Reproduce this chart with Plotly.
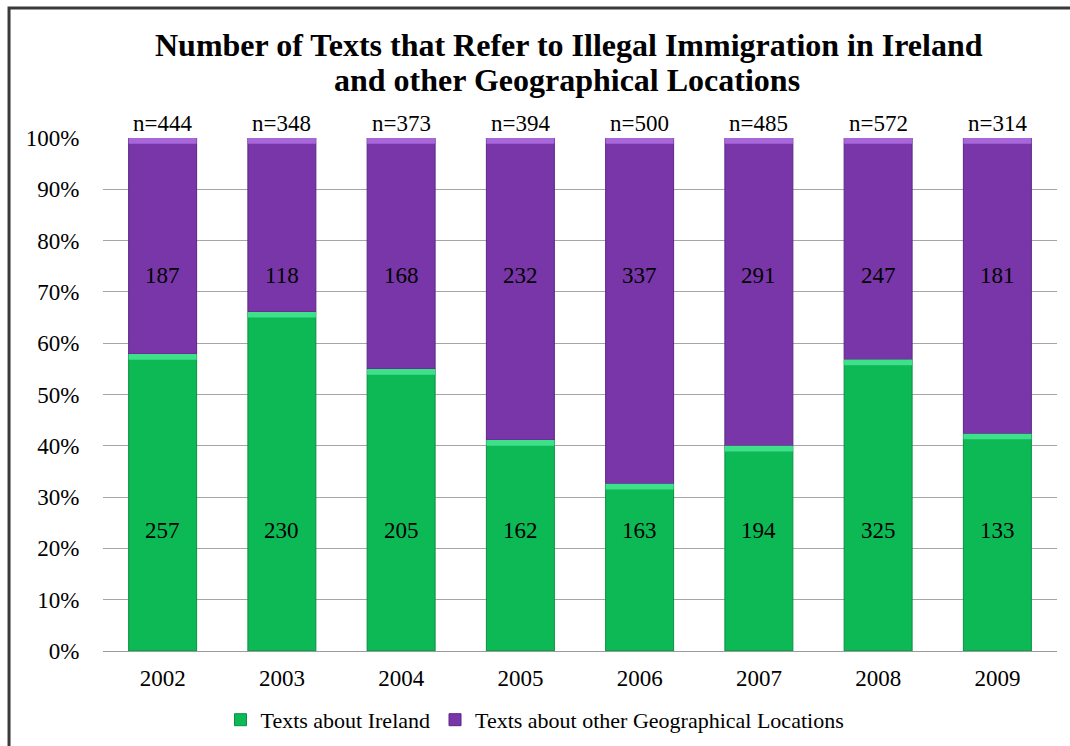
import plotly.graph_objects as go

# Yearly counts of texts
years = ["2002", "2003", "2004", "2005", "2006", "2007", "2008", "2009"]
ireland = [257, 230, 205, 162, 163, 194, 325, 133]
other_locations = [187, 118, 168, 232, 337, 291, 247, 181]
totals = [444, 348, 373, 394, 500, 485, 572, 314]
y_ticks = [0, 10, 20, 30, 40, 50, 60, 70, 80, 90, 100]
y_tick_labels = [f"{v}%" for v in y_ticks]

GREEN = "#0cb955"
GREEN_HI = "#3fe08a"
PURPLE = "#7936a8"
PURPLE_HI = "#a766d9"
FONT = "Liberation Serif"
LABEL_SIZE = 23

pos = list(range(len(years)))
ire_pct = [i / t * 100 for i, t in zip(ireland, totals)]
oth_pct = [o / t * 100 for o, t in zip(other_locations, totals)]
BAR_W = 0.57
HI = 1.1  # thickness (in %) of the lighter bevel strip on top of each segment

fig = go.Figure()
fig.add_trace(go.Bar(
    x=pos, y=ire_pct, base=[0] * len(years), width=BAR_W,
    name="Texts about Ireland", marker=dict(color=GREEN, line=dict(color="#0a8f43", width=1)),
    hoverinfo="skip"))
fig.add_trace(go.Bar(
    x=pos, y=oth_pct, base=ire_pct, width=BAR_W,
    name="Texts about other Geographical Locations",
    marker=dict(color=PURPLE, line=dict(color="#5c2683", width=1)),
    hoverinfo="skip"))
# bevel highlights
fig.add_trace(go.Bar(
    x=pos, y=[HI] * len(years), base=[p - HI for p in ire_pct], width=BAR_W,
    marker=dict(color=GREEN_HI, line=dict(width=0)), showlegend=False, hoverinfo="skip"))
fig.add_trace(go.Bar(
    x=pos, y=[HI] * len(years), base=[100 - HI] * len(years), width=BAR_W,
    marker=dict(color=PURPLE_HI, line=dict(width=0)), showlegend=False, hoverinfo="skip"))

label_font = dict(family=FONT, size=LABEL_SIZE, color="black")
annotations = []
for i, a, b, t in zip(pos, ireland, other_locations, totals):
    annotations.append(dict(x=i, y=23.4, text=str(a), showarrow=False, font=label_font))
    annotations.append(dict(x=i, y=73.2, text=str(b), showarrow=False, font=label_font))
    annotations.append(dict(x=i, y=100, yanchor="bottom", yshift=0, text=f"n={t}",
                            showarrow=False, font=label_font))

title_font = dict(family=FONT, size=32, color="black")
annotations.append(dict(
    xref="paper", yref="paper", x=0.488, y=1.1815, xanchor="center", yanchor="middle",
    text="<b>Number of Texts that Refer to Illegal Immigration in Ireland</b>",
    showarrow=False, font=title_font))
annotations.append(dict(
    xref="paper", yref="paper", x=0.486, y=1.1132, xanchor="center", yanchor="middle",
    text="<b>and other Geographical Locations</b>",
    showarrow=False, font=title_font))
annotations.append(dict(
    xref="paper", yref="paper", x=-0.108, y=1.278, xanchor="left", yanchor="bottom",
    text="<i>Geographical</i>", showarrow=False,
    font=dict(family=FONT, size=22, color="black")))

fig.update_layout(
    width=1070, height=746,
    margin=dict(l=103, r=13, t=138, b=95, autoexpand=False),
    paper_bgcolor="white", plot_bgcolor="white",
    barmode="overlay",
    font=dict(family=FONT, size=LABEL_SIZE, color="black"),
    showlegend=True,
    legend=dict(orientation="h", xref="container", yref="container",
                x=0.50, xanchor="center", y=0.035, yanchor="middle",
                font=dict(family=FONT, size=22, color="black"), traceorder="normal"),
    annotations=annotations,
    shapes=[dict(type="rect", xref="paper", yref="paper",
                 x0=-0.0985, x1=1.1, y0=-0.3, y1=1.2535,
                 line=dict(color="#3a3a3a", width=3), layer="above")],
    xaxis=dict(range=[-0.5, len(years) - 0.5], tickmode="array", tickvals=pos, ticktext=years,
               showgrid=False, zeroline=False, showline=True, linecolor="#9a9a9a",
               linewidth=1, ticks="outside", ticklen=6, tickcolor="rgba(0,0,0,0)",
               tickfont=dict(family=FONT, size=LABEL_SIZE), fixedrange=True,
               automargin=False),
    yaxis=dict(range=[0, 100], tickmode="array", tickvals=y_ticks, ticktext=y_tick_labels,
               showgrid=True, gridcolor="#a6a6a6", gridwidth=1, zeroline=False, showline=False,
               ticks="outside", ticklen=18, tickcolor="rgba(0,0,0,0)",
               tickfont=dict(family=FONT, size=LABEL_SIZE), fixedrange=True,
               automargin=False),
)

fig.write_html("out.html")
